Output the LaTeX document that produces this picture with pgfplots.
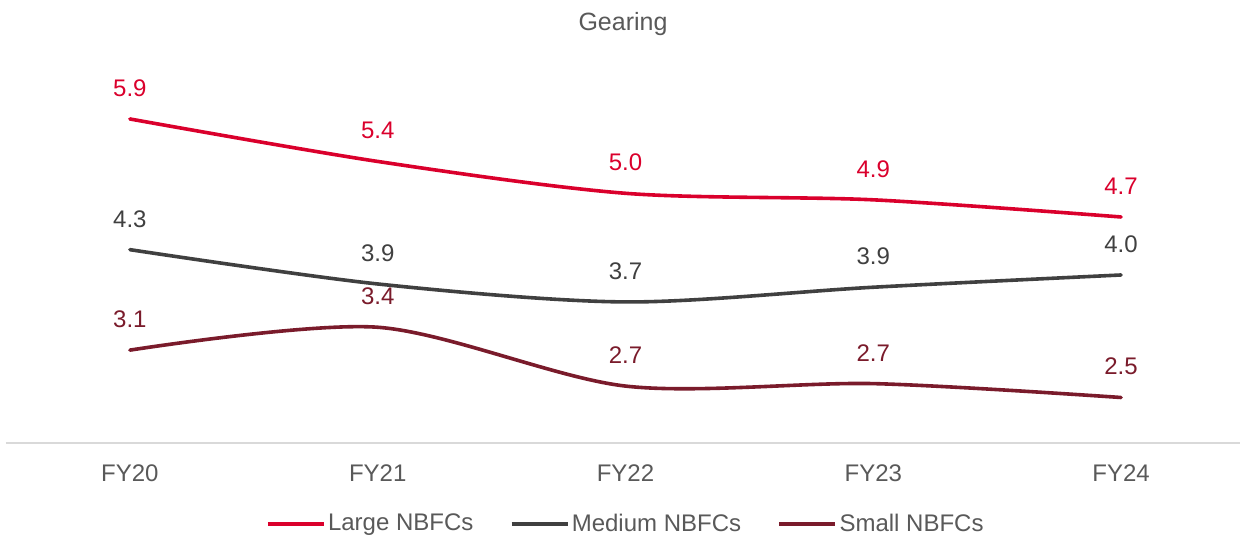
\documentclass[border=0pt]{standalone}
\usepackage{fontspec}
\setmainfont{Liberation Sans}
\usepackage{pgfplots}
\pgfplotsset{compat=1.18}
\definecolor{cLarge}{RGB}{218,0,44}
\definecolor{cMed}{RGB}{64,64,64}
\definecolor{cSmall}{RGB}{122,27,43}
\definecolor{cText}{RGB}{89,89,89}
\definecolor{cAxis}{RGB}{217,217,217}
\newcommand{\fs}{\fontsize{12}{14.4}\selectfont}

\begin{document}
\begin{tikzpicture}
\useasboundingbox (-3pt,-48pt) rectangle (617pt,221.5pt);
\begin{axis}[
 at={(0,0)}, anchor=south west,
 scale only axis, width=617pt, height=191.5pt,
 xmin=-0.5, xmax=4.48, ymin=1.933, ymax=6.622,
 axis x line=bottom, axis y line=none,
 x axis line style={-, draw=cAxis, line width=0.75pt},
 xtick={0,1,2,3,4}, xticklabels={FY20,FY21,FY22,FY23,FY24},
 major tick length=0pt,
 xticklabel style={anchor=base, yshift=-19.3pt, font=\fs, text=cText},
 ytick=\empty,
 clip=false,
 legend columns=3,
 legend style={at={(0.5,0)}, anchor=center, yshift=-40.5pt, xshift=1.5pt, draw=none, fill=none, font=\fs, text=cText,
   /tikz/every even column/.append style={column sep=17pt}, nodes={inner sep=1.2pt}},
 legend image code/.code={\draw[#1, line cap=butt] (0pt,0pt) -- (28pt,0pt);},
 nodes near coords, point meta=explicit symbolic,
 every node near coord/.append style={anchor=base, yshift=11.3pt, font=\fs},
 every axis plot/.append style={line width=1.8pt, line cap=round, smooth},
]
\addplot[color=cLarge, every node near coord/.append style={text=cLarge}] table[meta=lab] {
x y lab
0 5.90 5.9
1 5.38 5.4
2 4.99 5.0
3 4.91 4.9
4 4.70 4.7
};
\addlegendentry{Large NBFCs}
\addplot[color=cMed, every node near coord/.append style={text=cMed}] table[meta=lab] {
x y lab
0 4.30 4.3
1 3.88 3.9
2 3.66 3.7
3 3.84 3.9
4 3.99 4.0
};
\addlegendentry{Medium NBFCs}
\addplot[color=cSmall, every node near coord/.append style={text=cSmall}] table[meta=lab] {
x y lab
0 3.07 3.1
1 3.35 3.4
2 2.63 2.7
3 2.66 2.7
4 2.49 2.5
};
\addlegendentry{Small NBFCs}
\node[anchor=base, text=cText, font=\fontsize{12.5}{15}\selectfont] at (rel axis cs:0.5,1) [yshift=14.6pt] {Gearing};
\end{axis}
\end{tikzpicture}
\end{document}
